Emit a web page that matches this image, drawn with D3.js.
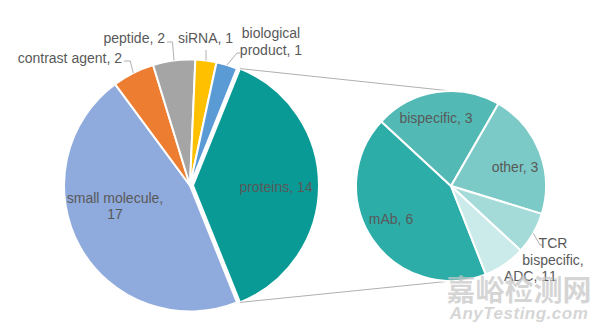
<!DOCTYPE html>
<html>
<head>
<meta charset="utf-8">
<script src="https://cdn.jsdelivr.net/npm/d3@7"></script>
<style>
  html, body { margin: 0; padding: 0; background: #fff; }
  svg { display: block; font-family: "Liberation Sans", Arial, sans-serif; }
</style>
</head>
<body>
<svg id="chart" width="600" height="332"></svg>
<script>
// Main pie: drug modality counts
const mainCategories = ["proteins", "small molecule", "contrast agent", "peptide", "siRNA", "biological product"];
const mainValues = [14, 17, 2, 2, 1, 1];
const mainColors = ["#0A9A95", "#8FAADC", "#ED7D31", "#A5A5A5", "#FFC000", "#5B9BD5"];
const mainLabels = [["proteins, 14"], ["small molecule,", "17"], ["contrast agent, 2"], ["peptide, 2"], ["siRNA, 1"], ["biological", "product, 1"]];

// Secondary pie: breakdown of proteins
const subCategories = ["mAb", "bispecific", "other", "TCR bispecific", "ADC"];
const subValues = [6, 3, 3, 1, 1];
const subColors = ["#2DADA8", "#52B9B5", "#7CCAC7", "#A4DBD9", "#CBEBEA"];
const subLabels = [["mAb, 6"], ["bispecific, 3"], ["other, 3"], ["TCR", "bispecific,", "1"], ["ADC, 1"]];

const svg = d3.select("#chart");
const textColor = "#595959";
const lineColor = "#A6A6A6";
const fontSize = 14;
const lineH = 16.5;
const deg = Math.PI / 180;

// ---- main pie ----
const cx = 190, cy = 185.5, R = 126;
const explode = 3; // proteins wedge pulled toward the secondary pie
const mainTotal = d3.sum(mainValues);
const mainStart = Math.PI / 2 - Math.PI * mainValues[0] / mainTotal;
const mainPie = d3.pie().sort(null).startAngle(mainStart).endAngle(mainStart + 2 * Math.PI);
const mainArcs = mainPie(mainValues);
const arcMain = d3.arc().innerRadius(0).outerRadius(R);

const gMain = svg.append("g").attr("transform", `translate(${cx},${cy})`);
gMain.selectAll("path")
  .data(mainArcs)
  .join("path")
  .attr("d", arcMain)
  .attr("transform", (d, i) => i === 0 ? `translate(${explode},0)` : null)
  .attr("fill", (d, i) => mainColors[i])
  .attr("stroke", "#fff")
  .attr("stroke-width", 2)
  .attr("stroke-linejoin", "round");

// ---- secondary pie ----
const cx2 = 451, cy2 = 186, R2 = 95;
const subStart = 158.5 * deg;
const subPie = d3.pie().sort(null).startAngle(subStart).endAngle(subStart + 2 * Math.PI);
const subArcs = subPie(subValues);
const arcSub = d3.arc().innerRadius(0).outerRadius(R2);

// connector lines from the proteins wedge to the secondary pie
const pArc = mainArcs[0];
const edgePt = (a, r, ox, oy) => [ox + r * Math.sin(a), oy - r * Math.cos(a)];
const pTop = edgePt(pArc.startAngle, R, cx + explode, cy);
const pBot = edgePt(pArc.endAngle, R, cx + explode, cy);
svg.append("line").attr("x1", pTop[0]).attr("y1", pTop[1]).attr("x2", cx2).attr("y2", cy2 - R2)
  .attr("stroke", lineColor).attr("stroke-width", 0.9);
svg.append("line").attr("x1", pBot[0]).attr("y1", pBot[1]).attr("x2", cx2).attr("y2", cy2 + R2)
  .attr("stroke", lineColor).attr("stroke-width", 0.9);

const gSub = svg.append("g").attr("transform", `translate(${cx2},${cy2})`);
gSub.selectAll("path")
  .data(subArcs)
  .join("path")
  .attr("d", arcSub)
  .attr("fill", (d, i) => subColors[i])
  .attr("stroke", "#fff")
  .attr("stroke-width", 2)
  .attr("stroke-linejoin", "round");

// ---- labels ----
function drawLabel(lines, x, y, anchor) {
  const t = svg.append("text")
    .attr("x", x).attr("y", y)
    .attr("text-anchor", anchor)
    .attr("fill", textColor)
    .attr("font-size", fontSize);
  lines.forEach((s, k) => {
    t.append("tspan").attr("x", x).attr("dy", k === 0 ? 0 : lineH).text(s);
  });
}
function leader(points) {
  svg.append("path")
    .attr("d", d3.line()(points))
    .attr("fill", "none")
    .attr("stroke", lineColor)
    .attr("stroke-width", 0.9);
}
const mid = d => (d.startAngle + d.endAngle) / 2;

// inside labels: offsets of the first baseline from each pie centre
const mainInside = [[86, 6.5], [-75, 17]];
mainInside.forEach(([dx, dy], i) => {
  drawLabel(mainLabels[i], cx + dx, cy + dy, "middle");
});
const subInside = [[-60, 38], [-15, -63], [64, -14]];
subInside.forEach(([dx, dy], i) => {
  drawLabel(subLabels[i], cx2 + dx, cy2 + dy, "middle");
});

// outside labels on the main pie, with leader lines
{
  // contrast agent
  const e = edgePt(mid(mainArcs[2]), R, cx, cy);
  leader([e, [e[0] - 3, 61], [124, 61]]);
  drawLabel(mainLabels[2], 122, 63, "end");
  // peptide
  const e3 = edgePt(mid(mainArcs[3]), R, cx, cy);
  leader([e3, [e3[0] - 1.5, 42], [167, 42]]);
  drawLabel(mainLabels[3], 165, 43, "end");
  // siRNA
  const e4 = edgePt(mid(mainArcs[4]), R, cx, cy);
  leader([e4, [e4[0], 50]]);
  drawLabel(mainLabels[4], 205.5, 43, "middle");
  // biological product
  const e5 = edgePt(mid(mainArcs[5]), R, cx, cy);
  leader([e5, [237, 53], [240, 53]]);
  drawLabel(mainLabels[5], 271, 38, "middle");
}

// outside labels on the secondary pie
{
  const e = edgePt(mid(subArcs[3]), R2, cx2, cy2);
  leader([e, [540, 245], [542, 245]]);
  drawLabel(subLabels[3], 553, 248, "middle");
  drawLabel(subLabels[4], 549, 281, "end");
}

// site mark
svg.append("text")
  .attr("x", 519).attr("y", 301)
  .attr("text-anchor", "middle")
  .attr("font-family", "'Noto Sans CJK SC', sans-serif")
  .attr("font-weight", "bold")
  .attr("font-size", 29)
  .attr("fill", "#C8C8C8")
  .attr("fill-opacity", 0.75)
  .text("嘉峪检测网");
svg.append("text")
  .attr("x", 519).attr("y", 319)
  .attr("text-anchor", "middle")
  .attr("font-style", "italic")
  .attr("font-weight", "bold")
  .attr("font-size", 17)
  .attr("letter-spacing", 0.5)
  .attr("fill", "#C8C8C8")
  .attr("fill-opacity", 0.75)
  .text("AnyTesting.com");
</script>
</body>
</html>
